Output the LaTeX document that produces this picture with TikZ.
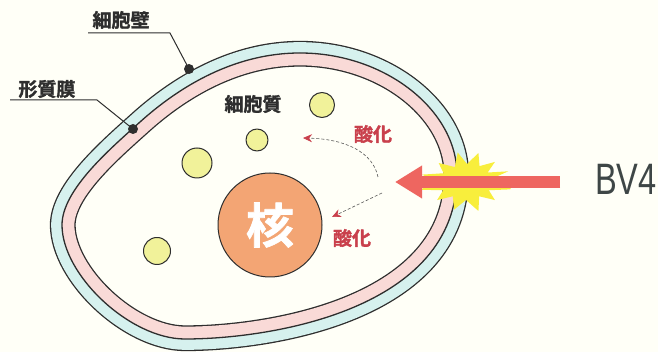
\documentclass[tikz,border=0pt]{standalone}
\usepackage{fontspec}
\newfontfamily\jpfont{Noto Sans CJK JP Bold}[FakeBold=1.5]
\setsansfont{Liberation Sans}
\usetikzlibrary{arrows.meta}

\definecolor{paper}{HTML}{FFFFF7}
\definecolor{ink}{HTML}{2E2E2E}
\definecolor{wallcyan}{HTML}{D6F1EE}
\definecolor{membpink}{HTML}{F9DAD7}
\definecolor{granule}{HTML}{F1F29A}
\definecolor{nucleus}{HTML}{F3A574}
\definecolor{oxred}{HTML}{C9404C}
\definecolor{rayred}{HTML}{EE6660}
\definecolor{flash}{HTML}{F8EE3C}
\definecolor{bvgray}{HTML}{3E4646}

% mid line of the cell envelope (between wall and membrane)
\def\cellpath{(62,225) .. controls (62,190) and (110,149) .. (140,122)
  .. controls (180,86) and (235,53) .. (300,53)
  .. controls (385,53) and (457,110) .. (457,175)
  .. controls (457,310) and (270,339) .. (185,339)
  .. controls (130,339) and (62,275) .. cycle}

\tikzset{
  granulebox/.style={circle, draw=ink, line width=1pt, fill=granule, inner sep=0pt},
  pindot/.style={circle, fill=ink, inner sep=0pt, minimum size=10pt},
  leader/.style={draw=ink, line width=1pt},
  jplabel/.style={text=ink, inner sep=0pt, font=\jpfont\fontsize{19}{19}\selectfont},
  oxlabel/.style={text=oxred, inner sep=0pt, font=\jpfont\fontsize{19}{19}\selectfont},
  oxarrow/.style={draw=ink!80, line width=0.6pt, densely dashed,
    -{Stealth[color=oxred, length=9pt, width=8pt]}},
  bigarrow/.style={draw=rayred, line width=12pt,
    -{Triangle[length=27pt, width=31pt]}},
}

\begin{document}
\begin{tikzpicture}[x=1pt, y=-1pt, line join=round]
\useasboundingbox (0,0) rectangle (658,352);
\fill[paper] (0,0) rectangle (658,352);

% cell wall: band outside the mid line
\draw[ink, line width=24.3pt] \cellpath;
\draw[wallcyan, line width=21.7pt] \cellpath;
\fill[paper] \cellpath;
% plasma membrane: band inside the mid line
\begin{scope}
  \clip \cellpath;
  \draw[ink, line width=27.3pt] \cellpath;
  \draw[membpink, line width=24.7pt] \cellpath;
\end{scope}
\draw[ink, line width=1.3pt] \cellpath;

% flash where the ray hits the wall
\fill[flash] (514,182)
  \foreach \a/\r in {12/0.55, 22/0.95, 35/0.55, 48/0.9, 62/0.6, 75/1.0, 88/0.6,
    100/1.0, 115/0.55, 132/0.85, 148/0.55, 165/0.95, 180/0.6, 195/1.0, 210/0.55,
    225/0.85, 240/0.55, 255/0.95, 270/0.6, 285/1.0, 300/0.55, 315/0.85, 330/0.55,
    345/0.95}
  { -- ({466+48*\r*cos(\a)}, {182-30*\r*sin(\a)}) } -- cycle;

% granules and nucleus
\node[granulebox, minimum size=25pt] (g1) at (322,105) {};
\node[granulebox, minimum size=22pt] (g2) at (257,140) {};
\node[granulebox, minimum size=30pt] (g3) at (197,163) {};
\node[granulebox, minimum size=27pt] (g4) at (157,251) {};
\node[circle, draw=ink, line width=1pt, fill=nucleus, minimum size=104pt,
  inner sep=0pt, text=white, font=\jpfont\fontsize{48}{48}\selectfont]
  (nuc) at (270,225) {核};

% labels with leaders
\node[jplabel] (wallt) at (121,20) {細胞壁};
\node[pindot] (walldot) at (189,69) {};
\coordinate (wallknee) at (170,33);
\coordinate (wallend) at (88,33);
\draw[leader] (walldot.center) -- (wallknee) -- (wallend);

\node[jplabel] (membt) at (47,89) {形質膜};
\node[pindot] (membdot) at (133,129) {};
\coordinate (membknee) at (97,100);
\coordinate (membend) at (10,100);
\draw[leader] (membdot.center) -- (membknee) -- (membend);

\node[jplabel] (cytot) at (253,104) {細胞質};

% incoming ray
\node[text=bvgray, inner sep=0pt, font=\sffamily\fontsize{44}{44}\selectfont]
  (bv) at (626,179) {\scalebox{0.74}[1]{BV4}};
\coordinate (hit) at (395,182);
\draw[bigarrow] (bv.west |- hit) ++(-35,0) -- (hit);

% oxidation paths
\coordinate (ox1s) at (378,177);
\coordinate (ox1e) at (303,138);
\draw[oxarrow] (ox1s) .. controls (373,152) and (345,139) .. (ox1e);
\node[oxlabel] (ox1t) at (373,134) {酸化};

\coordinate (ox2s) at (382,193);
\coordinate (ox2e) at (332,217);
\draw[oxarrow] (ox2s) -- (ox2e);
\node[oxlabel] (ox2t) at (352,238) {酸化};
\end{tikzpicture}
\end{document}
